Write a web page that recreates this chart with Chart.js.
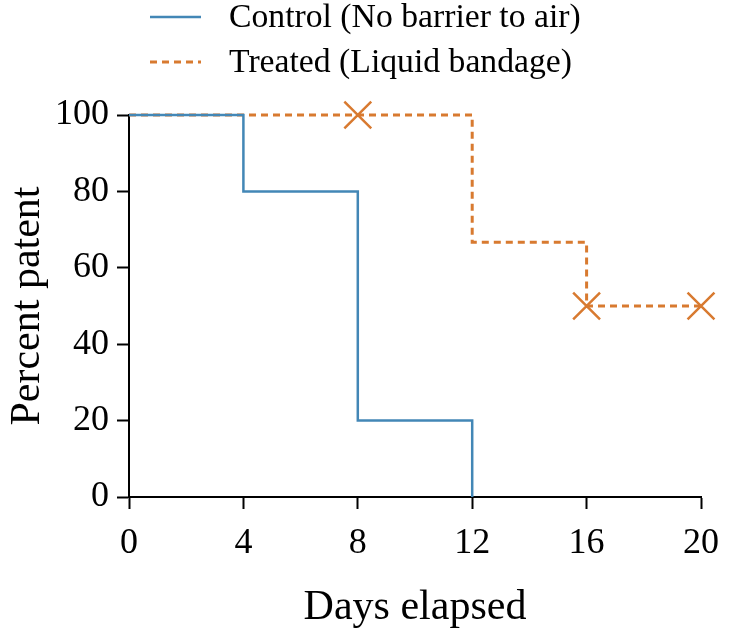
<!DOCTYPE html>
<html>
<head>
<meta charset="utf-8">
<script src="https://cdn.jsdelivr.net/npm/chart.js@4/dist/chart.umd.min.js"></script>
<style>
    html, body { margin: 0; padding: 0; background: #fff; }
    canvas { display: block; }
</style>
</head>
<body>
<canvas id="km" width="732" height="636"></canvas>
<script>
'use strict';

/* global Chart */

// survival steps
const controlDays = [0, 4, 8, 12];
const controlPct = [100, 80, 20, 0];
const treatedDays = [0, 12, 16, 20];
const treatedPct = [100, 66.7, 50, 50];
// censored points (x marks) on the treated curve
const censorDays = [8, 16, 20];
const censorPct = [100, 50, 50];

const legendLabels = ['Control (No barrier to air)', 'Treated (Liquid bandage)'];
const xTicks = [0, 4, 8, 12, 16, 20];
const yTicks = [0, 20, 40, 60, 80, 100];

const BLUE = '#4387b6';
const ORANGE = '#d87a30';
const SERIF = "'Liberation Serif', 'Times New Roman', serif";

let toXY = (xs, ys) => xs.map((x, i) => ({ x: x, y: ys[i] }));

// legend drawn by hand so it sits left-aligned with line samples
const legendPlugin = {
    id: 'kmLegend',
    afterDraw(chart) {
        const ctx = chart.ctx;
        const rows = [
            { y: 17, color: BLUE, dash: [], width: 2.5 },
            { y: 62, color: ORANGE, dash: [7, 5], width: 3 }
        ];
        ctx.save();
        rows.forEach((r, i) => {
            ctx.strokeStyle = r.color;
            ctx.lineWidth = r.width;
            ctx.setLineDash(r.dash);
            ctx.beginPath();
            ctx.moveTo(150, r.y);
            ctx.lineTo(201, r.y);
            ctx.stroke();
            ctx.setLineDash([]);
            ctx.fillStyle = '#000';
            ctx.font = `33.7px ${SERIF}`;
            ctx.textBaseline = 'middle';
            ctx.textAlign = 'left';
            ctx.fillText(legendLabels[i], 229, r.y + 1);
        });
        ctx.restore();
    }
};

const axisBase = {
    border: { color: '#000', width: 2 },
    grid: { drawOnChartArea: false, color: '#000', tickColor: '#000', tickLength: 12, tickWidth: 2 },
    ticks: { color: '#000', font: { family: SERIF, size: 36 } },
    title: { display: true, color: '#000', font: { family: SERIF, size: 42 }, padding: { top: 3, bottom: 3 } }
};

new Chart(document.getElementById('km'), {
    type: 'line',
    data: {
        datasets: [{
            label: 'censored',
            type: 'scatter',
            data: toXY(censorDays, censorPct),
            pointStyle: 'crossRot',
            pointRadius: 19,
            pointBorderWidth: 2.5,
            borderColor: ORANGE,
            backgroundColor: ORANGE,
            showLine: false,
            clip: false
        }, {
            label: legendLabels[0],
            data: toXY(controlDays, controlPct),
            stepped: 'before',
            borderColor: BLUE,
            borderWidth: 2.5,
            pointRadius: 0,
            fill: false,
            clip: false
        }, {
            label: legendLabels[1],
            data: toXY(treatedDays, treatedPct),
            stepped: 'before',
            borderColor: ORANGE,
            borderWidth: 3,
            borderDash: [7, 5],
            pointRadius: 0,
            fill: false,
            clip: false
        }]
    },
    options: {
        responsive: false,
        animation: false,
        devicePixelRatio: 1,
        layout: { padding: { top: 115, right: 27, left: 0, bottom: 0 } },
        plugins: {
            legend: { display: false },
            tooltip: { enabled: false }
        },
        scales: {
            x: Object.assign({}, axisBase, {
                type: 'linear',
                min: 0,
                max: 20,
                afterBuildTicks: (s) => { s.ticks = xTicks.map((v) => ({ value: v })); },
                afterFit: (s) => { s.height = 139; },
                ticks: Object.assign({}, axisBase.ticks, { padding: 13, maxRotation: 0 }),
                title: Object.assign({}, axisBase.title, { text: 'Days elapsed' })
            }),
            y: Object.assign({}, axisBase, {
                type: 'linear',
                min: 0,
                max: 100,
                afterBuildTicks: (s) => { s.ticks = yTicks.map((v) => ({ value: v })); },
                afterFit: (s) => { s.width = 129; },
                ticks: Object.assign({}, axisBase.ticks, { padding: 8 }),
                title: Object.assign({}, axisBase.title, { text: 'Percent patent' })
            })
        }
    },
    plugins: [legendPlugin]
});
</script>
</body>
</html>
